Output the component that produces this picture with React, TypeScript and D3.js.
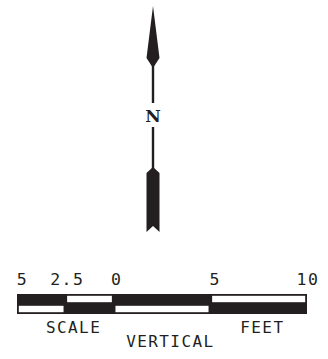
import React from 'react';
import * as d3 from 'd3';

// scale bar values (feet)
const tickValues = [-5, -2.5, 0, 5, 10];
const tickLabels = ['5', '2.5', '0', '5', '10'];
const tickShift = [5.5, 2, 3, 5, 1];
// segments: [from, to, topBlack]
const segStarts = [-5, -2.5, 0, 5];
const segEnds = [-2.5, 0, 5, 10];
const topBlack = [true, false, true, false];
const captions = ['SCALE', 'VERTICAL', 'FEET'];
const captionAt = [-3.5, 0.65, 6.55];

const W = 328;
const H = 359;

export default function App() {
  const x = d3.scaleLinear().domain([-5, 10]).range([17, 307]);
  const barTop = 294;
  const rowH = 10;
  const cx = 153;

  const head = d3.path();
  head.moveTo(cx, 6);
  head.quadraticCurveTo(cx + 3, 30, cx + 6.5, 58);
  head.lineTo(cx + 1.3, 66);
  head.lineTo(cx - 1.3, 66);
  head.lineTo(cx - 6.5, 58);
  head.quadraticCurveTo(cx - 3, 30, cx, 6);
  head.closePath();

  const tail = d3.path();
  tail.moveTo(cx, 167);
  tail.lineTo(cx + 6.5, 173);
  tail.lineTo(cx + 6.5, 232);
  tail.lineTo(cx, 226);
  tail.lineTo(cx - 6.5, 232);
  tail.lineTo(cx - 6.5, 173);
  tail.closePath();

  const mono = '"DejaVu Sans Mono", monospace';
  const ink = '#231f20';

  return (
    <svg width={W} height={H} style={{ position: 'absolute', left: 0, top: 0 }}>
      <rect width={W} height={H} fill="#fff" />
      {/* north arrow */}
      <path d={head.toString()} fill={ink} />
      <line x1={cx} x2={cx} y1={62} y2={103} stroke={ink} strokeWidth={2.4} />
      <text x={cx} y={122} textAnchor="middle" fontFamily='"DejaVu Serif", serif' fontWeight="bold" fontSize={17} fill={ink}>N</text>
      <line x1={cx} x2={cx} y1={127} y2={170} stroke={ink} strokeWidth={2.4} />
      <path d={tail.toString()} fill={ink} />

      {/* scale bar */}
      <rect x={x(-5)} y={barTop} width={x(10) - x(-5)} height={rowH * 2} fill={ink} />
      {segStarts.map((s, i) => {
        const rowY = topBlack[i] ? barTop + rowH : barTop;
        return (
          <rect
            key={i}
            x={x(s) + 1.8}
            y={rowY + 1.8}
            width={x(segEnds[i]) - x(s) - 3.6}
            height={rowH - 3.6}
            fill="#fff"
          />
        );
      })}
      {tickValues.map((v, i) => (
        <text
          key={i}
          x={x(v) + tickShift[i]}
          y={285}
          textAnchor="middle"
          fontFamily={mono}
          fontSize={16.5}
          letterSpacing={1.5}
          fill={ink}
        >
          {tickLabels[i]}
        </text>
      ))}
      {captions.map((c, i) => (
        <text
          key={c}
          x={x(captionAt[i])}
          y={i === 1 ? 347 : 333}
          fontFamily={mono}
          fontSize={16}
          letterSpacing={1.4}
          fill={ink}
        >
          {c}
        </text>
      ))}
    </svg>
  );
}
